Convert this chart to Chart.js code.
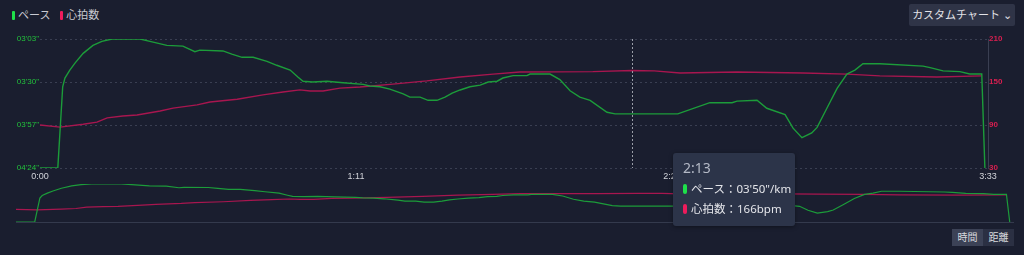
<!DOCTYPE html>
<html>
<head>
<meta charset="utf-8">
<script src="https://cdn.jsdelivr.net/npm/chart.js@4.4.1/dist/chart.umd.min.js"></script>
<style>
  html, body { margin: 0; padding: 0; background: #1a1e2f; }
  body { width: 1024px; height: 255px; position: relative; overflow: hidden;
         font-family: "Noto Sans", "Noto Sans CJK JP", sans-serif; color: #c8cad2; }
  #legend { position: absolute; left: 12px; top: 7px; font-size: 11px; line-height: 16px; }
  #legend span.sw { display: inline-block; width: 3px; height: 9px; border-radius: 1px; vertical-align: -1px; margin-right: 3px; }
  #legend span.item { margin-right: 7px; }
  #custom { position: absolute; left: 909px; top: 4px; width: 106px; height: 22px; background: #2f3447;
            border-radius: 2px; font-size: 11px; line-height: 22px; text-align: center; color: #e2e3e8; }
  #main { position: absolute; left: 0; top: 0; width: 1024px; height: 185px; }
  #overview { position: absolute; left: 0; top: 178px; width: 1024px; height: 52px; }
  #tip { position: absolute; left: 673px; top: 153px; width: 122px; height: 73px; background: #2c3449;
         border-radius: 3px; box-shadow: 0 1px 4px rgba(0,0,0,0.4); box-sizing: border-box; padding: 4px 10px; }
  #tip .title { font-size: 14px; color: #b4b9c6; line-height: 22px; }
  #tip .row { font-size: 11.5px; color: #e4e5ea; line-height: 20px; white-space: nowrap; }
  #tip .row span { display: inline-block; width: 4px; height: 10px; border-radius: 2px; vertical-align: -1px; margin-right: 4px; }
  #btns { position: absolute; left: 952px; top: 229px; height: 17px; font-size: 10px; line-height: 17px; color: #d8d9de; }
  #btns div { float: left; width: 31px; text-align: center; }
</style>
</head>
<body>
<div id="legend">
  <span class="item"><span class="sw" style="background:#1ee04a"></span>ペース</span>
  <span class="item"><span class="sw" style="background:#ee1b5c"></span>心拍数</span>
</div>
<div id="custom">カスタムチャート ⌄</div>
<div id="main"><canvas id="mainChart"></canvas></div>
<div id="overview"><canvas id="overviewChart"></canvas></div>
<div id="tip"></div>
<div id="btns"><div style="background:#3c4256">時間</div><div style="background:#2b3043">距離</div></div>
<script>
// time in minutes, pace in seconds per km, heart rate in bpm
const paceTime = [0, 4.0, 5.1, 5.6, 6.7, 7.9, 9.7, 11.9, 13.9, 16.2, 22.5, 24.7, 28.5, 32.1, 34.8, 35.9, 41.1, 43.1, 45.4, 47.9,
  51.0, 53.2, 56.2, 58.0, 59.1, 61.3, 64.5, 68.1, 72.6, 74.1, 76.4, 78.6, 81.6, 83.1, 85.4, 87.2, 89.2, 91.0, 92.6, 94.4,
  96.6, 98.9, 100.7, 102.7, 104.0, 106.3, 109.4, 110.1, 114.6, 116.8, 119.1, 121.3, 123.6, 127.4, 129.2, 133, 143.3, 150.5, 155.5, 156.6,
  161.1, 163.3, 167.4, 169.2, 171.2, 173.4, 174.6, 176.8, 179.1, 181.3, 183.1, 184.9, 188.7, 198.4, 200.0, 202.9, 206.7, 208.9, 211.6, 212.3];
const paceValues = [264, 264, 213, 207.5, 202.5, 198, 192, 187, 184.5, 183, 183, 184.5, 187, 187.5, 191, 190, 190.5, 192.5, 194.5, 194.5,
  197, 199.5, 202.5, 207, 209.5, 210, 209.5, 210.5, 211.5, 212.5, 213, 214.5, 217.5, 219.5, 219.5, 221.5, 221.5, 219.5, 217, 215,
  213, 212, 210, 209.5, 207.5, 206, 206, 205, 205, 208.5, 215.5, 219.5, 221.5, 229, 230, 230, 230, 223, 223, 222,
  221.5, 226.5, 230.5, 239, 245, 242, 238.5, 226.5, 214, 205, 202.5, 198.5, 198.5, 200, 201, 203, 203.5, 205, 205, 264];
const hrTime = [0, 4.5, 9.7, 12.8, 15.1, 18.6, 21.8, 27.0, 29.9, 35.3, 38.2, 44.3, 50.1, 54.6, 58.4, 60.7, 63.6, 67.4, 71.9, 79.3,
  86.9, 94.4, 101.8, 107.8, 124.2, 133, 138, 143.8, 156.6, 171.4, 181.3, 188.7, 201.5, 211.6];
const hrValues = [90, 87, 91, 94, 100, 102.5, 104, 109.5, 113.5, 118, 122, 126, 132, 136, 139, 137.5, 137.5, 141.5, 143, 147,
  151.5, 157, 161, 164, 164.5, 166, 165.5, 162.5, 164, 162.5, 161, 158.5, 157, 158.5];
const timeTicks = [0, 71, 142, 213];
const paceTicks = [183, 210, 237, 264];
const hrTicks = [30, 90, 150, 210];
const hoverTime = 133;

const GREEN = '#1c9c3a', PINK = '#a8164f';
const fmtTime = t => Math.floor(t / 60) + ':' + String(Math.round(t % 60)).padStart(2, '0');
const fmtPace = v => String(Math.floor(v / 60)).padStart(2, '0') + "'" + String(Math.round(v % 60)).padStart(2, '0') + '"';
const pts = (xs, ys) => xs.map((x, i) => ({ x: x, y: ys[i] }));

const crosshair = {
  id: 'crosshair',
  afterDatasetsDraw(chart) {
    const { ctx, chartArea, scales } = chart;
    const x = Math.round(scales.x.getPixelForValue(hoverTime)) + 0.5;
    ctx.save();
    ctx.strokeStyle = '#9a9ea8';
    ctx.lineWidth = 1;
    ctx.setLineDash([2, 2]);
    ctx.beginPath();
    ctx.moveTo(x, chartArea.top);
    ctx.lineTo(x, chartArea.bottom);
    ctx.stroke();
    ctx.restore();
  }
};

new Chart(document.getElementById('mainChart'), {
  type: 'line',
  data: {
    datasets: [
      { label: 'ペース', data: pts(paceTime, paceValues), yAxisID: 'y', borderColor: GREEN, borderWidth: 1.4, pointRadius: 0, tension: 0 },
      { label: '心拍数', data: pts(hrTime, hrValues), yAxisID: 'y2', borderColor: PINK, borderWidth: 1.4, pointRadius: 0, tension: 0 }
    ]
  },
  options: {
    responsive: true, maintainAspectRatio: false, animation: false,
    layout: { padding: { top: 39, left: 0, right: 0, bottom: 0 } },
    plugins: { legend: { display: false }, tooltip: { enabled: false } },
    scales: {
      x: {
        type: 'linear', min: 0, max: 213,
        afterBuildTicks: s => { s.ticks = timeTicks.map(v => ({ value: v })); },
        afterFit: s => { s.height = 17; },
        grid: { display: false, drawTicks: false },
        border: { display: false },
        ticks: { autoSkip: false, maxRotation: 0, padding: 3, color: '#d2d4da', font: { size: 9 }, callback: v => fmtTime(v) }
      },
      y: {
        position: 'left', reverse: true, min: 183, max: 264,
        afterBuildTicks: s => { s.ticks = paceTicks.map(v => ({ value: v })); },
        afterFit: s => { s.width = 40; },
        grid: { color: '#3a3f52', drawTicks: false, tickBorderDash: [2, 3] },
        border: { display: false, dash: [2, 3] },
        ticks: { padding: 1, color: '#22c03c', font: { size: 8 }, callback: v => fmtPace(v) }
      },
      y2: {
        position: 'right', min: 30, max: 210,
        afterBuildTicks: s => { s.ticks = hrTicks.map(v => ({ value: v })); },
        afterFit: s => { s.width = 36; },
        grid: { display: false, drawTicks: false },
        border: { display: true, color: '#3a3f52', dash: [2, 3] },
        ticks: { padding: 1, color: '#d81f50', font: { size: 8, weight: 'bold' } }
      }
    }
  },
  plugins: [crosshair, {
    id: 'dashGrid',
    beforeDraw(chart) { chart.scales.y.options.grid.borderDash = [2, 3]; }
  }]
});

new Chart(document.getElementById('overviewChart'), {
  type: 'line',
  data: {
    datasets: [
      { data: pts(paceTime, paceValues), yAxisID: 'y', borderColor: GREEN, borderWidth: 1.2, pointRadius: 0, tension: 0 },
      { data: pts(hrTime, hrValues), yAxisID: 'y2', borderColor: PINK, borderWidth: 1.2, pointRadius: 0, tension: 0 }
    ]
  },
  options: {
    responsive: true, maintainAspectRatio: false, animation: false,
    layout: { padding: { top: 6, left: 16, right: 11, bottom: 0 } },
    plugins: { legend: { display: false }, tooltip: { enabled: false } },
    scales: {
      x: {
        type: 'linear', min: 0, max: 213,
        afterFit: s => { s.height = 8; },
        grid: { display: false, drawTicks: false },
        border: { display: true, color: '#343a4d', dash: [2, 3] },
        ticks: { display: false }
      },
      y: { display: false, reverse: true, min: 183, max: 264 },
      y2: { display: false, min: 30, max: 210 }
    }
  }
});

// tooltip at the hovered time
const pi = paceTime.indexOf(hoverTime), hi = hrTime.indexOf(hoverTime);
document.getElementById('tip').innerHTML =
  '<div class="title">' + fmtTime(hoverTime) + '</div>' +
  '<div class="row"><span style="background:#1ee04a"></span>ペース：' + fmtPace(paceValues[pi]) + '/km</div>' +
  '<div class="row"><span style="background:#ee1b5c"></span>心拍数：' + hrValues[hi] + 'bpm</div>';
</script>
</body>
</html>
